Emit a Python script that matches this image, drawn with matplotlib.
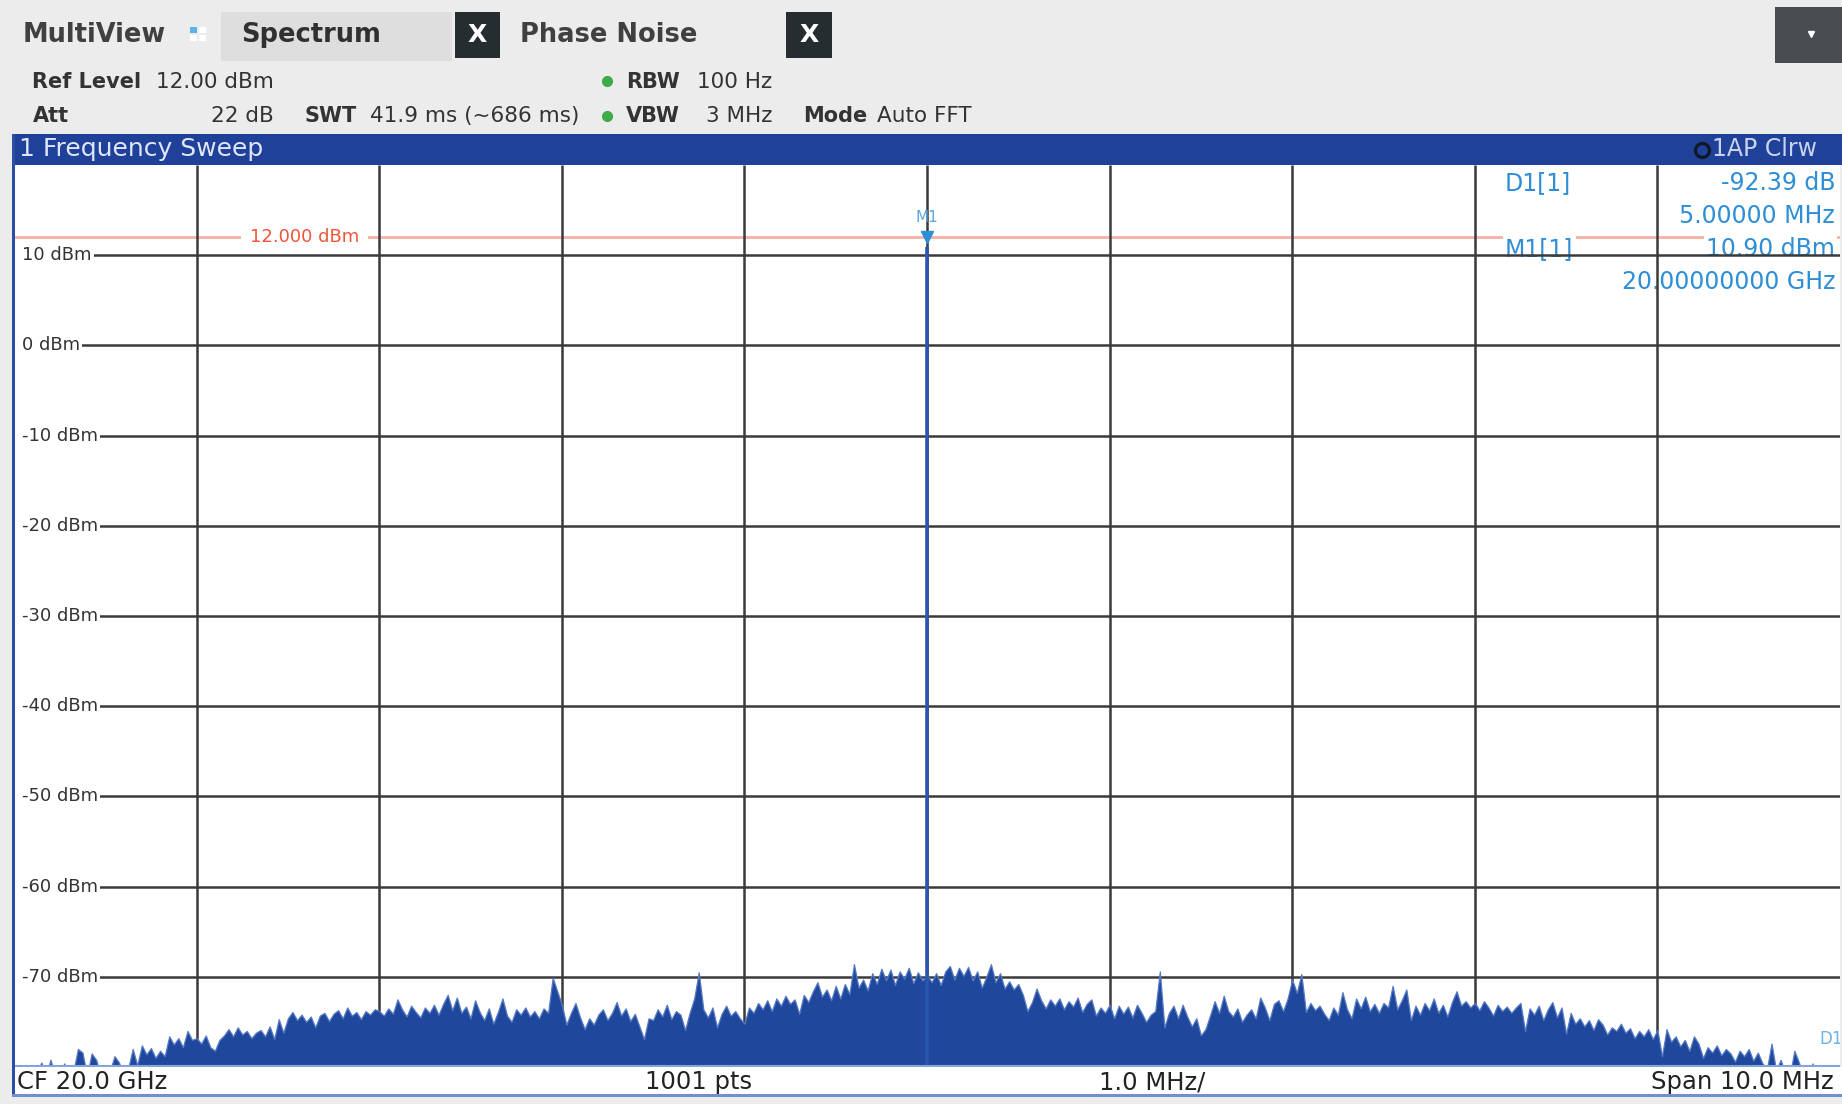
import numpy as np
import matplotlib
matplotlib.use("Agg")
import matplotlib.pyplot as plt
from matplotlib.patches import Rectangle

span_mhz = 10.0
ref_level = 12.0
y_top, y_bottom = 20, -80

# noise trace in dBm, 401 bins across the 10 MHz span (left to right)
trace_dbm = [
    # -5.0 .. -4.525 MHz
    -81.0, -81.0, -81.0, -81.0, -81.0, -80.5, -79.5, -81.0, -79.2, -81.0,
    -81.0, -79.6, -81.0, -80.5, -78.0, -78.4, -81.0, -78.5, -79.2, -81.0,
    # -4.5 .. -4.025
    -81.0, -80.5, -78.8, -79.5, -81.0, -80.2, -78.0, -79.8, -77.6, -78.6,
    -77.9, -79.0, -78.2, -78.8, -76.6, -77.5, -76.8, -77.8, -76.0, -77.0,
    # -4.0 .. -3.525
    -76.8, -77.4, -76.5, -77.8, -78.2, -77.0, -76.5, -75.8, -76.6, -75.6,
    -76.4, -76.0, -76.8, -76.2, -75.9, -76.6, -75.5, -76.9, -74.7, -76.2,
    # -3.5 .. -3.025
    -74.6, -73.9, -74.8, -74.2, -75.0, -74.4, -75.6, -74.3, -74.0, -74.9,
    -74.1, -73.7, -74.6, -73.4, -74.3, -73.9, -74.7, -73.8, -74.2, -73.6,
    # -3.0 .. -2.525
    -73.8, -74.3, -73.5, -74.1, -72.5, -73.6, -74.4, -73.2, -73.9, -74.5,
    -73.4, -74.0, -73.1, -74.2, -73.0, -72.0, -73.7, -72.3, -74.0, -73.3,
    # -2.5 .. -2.025
    -74.6, -72.6, -73.9, -74.8, -73.5, -75.2, -73.9, -72.4, -74.3, -75.0,
    -73.6, -74.2, -73.4, -74.4, -73.8, -74.6, -73.5, -74.0, -70.1, -71.6,
    # -2.0 .. -1.525
    -73.1, -75.3, -74.0, -72.9, -74.5, -75.8, -74.6, -75.3, -74.2, -73.6,
    -74.8, -74.0, -72.8, -74.3, -73.5, -74.9, -74.1, -75.5, -76.9, -74.6,
    # -1.5 .. -1.025
    -74.8, -73.6, -74.4, -73.1, -74.7, -73.8, -74.2, -75.9, -74.0, -72.4,
    -69.5, -73.6, -74.5, -73.4, -75.6, -74.1, -73.2, -74.3, -73.8, -74.6,
    # -1.0 .. -0.525
    -75.2, -73.4, -74.0, -72.9, -73.6, -72.6, -73.8, -72.4, -73.2, -72.1,
    -73.0, -72.5, -74.1, -72.0, -72.8, -71.6, -70.6, -72.2, -71.4, -72.6,
    # -0.5 .. -0.025
    -71.0, -72.4, -70.8, -71.9, -68.6, -71.2, -70.3, -71.5, -69.6, -70.8,
    -69.1, -70.4, -69.2, -70.9, -69.4, -70.2, -69.0, -70.7, -69.5, -70.4,
    # 0 MHz (under the carrier)
    -69.8,
    # 0.025 .. 0.5
    -70.6, -69.6, -70.9, -69.4, -68.8, -70.3, -69.0, -69.9, -68.9, -70.4,
    -69.4, -71.2, -70.0, -68.6, -70.6, -69.6, -71.3, -70.5, -71.4, -70.8,
    # 0.525 .. 1.0
    -72.0, -73.8, -72.8, -71.3, -72.6, -73.5, -72.5, -73.2, -72.4, -73.6,
    -72.7, -73.3, -72.3, -73.9, -73.0, -72.5, -74.3, -73.4, -74.0, -73.1,
    # 1.025 .. 1.5
    -74.6, -73.2, -74.1, -73.3, -74.5, -73.1, -74.0, -75.0, -74.2, -73.8,
    -69.4, -75.6, -74.0, -73.2, -74.6, -73.1, -74.4, -75.5, -74.6, -76.5,
    # 1.525 .. 2.0
    -75.8, -74.3, -72.7, -74.0, -72.1, -73.8, -74.4, -73.5, -75.0, -74.2,
    -73.6, -74.6, -72.3, -73.4, -74.8, -73.0, -72.6, -73.8, -72.4, -70.3,
    # 2.025 .. 2.5
    -71.8, -69.7, -73.9, -72.9, -73.7, -73.2, -74.1, -74.8, -73.4, -74.2,
    -71.7, -73.6, -74.6, -72.4, -73.5, -72.2, -73.8, -73.0, -74.0, -72.9,
    # 2.525 .. 3.0
    -73.4, -71.0, -73.6, -72.6, -71.4, -74.8, -73.2, -74.2, -72.9, -73.7,
    -72.4, -74.0, -73.1, -74.4, -72.8, -71.6, -73.2, -72.7, -73.4, -72.9,
    # 3.025 .. 3.5
    -73.7, -72.7, -73.4, -74.3, -73.1, -73.8, -73.3, -74.0, -73.4, -72.9,
    -76.0, -73.5, -74.2, -73.2, -74.8, -73.6, -72.8, -74.5, -73.4, -76.3,
    # 3.525 .. 4.0
    -74.0, -75.2, -74.6, -75.5, -74.8, -75.9, -74.7, -75.3, -76.4, -75.6,
    -76.0, -75.2, -76.2, -75.7, -76.8, -76.0, -76.6, -75.8, -76.9, -75.9,
    # 4.025 .. 4.5
    -78.8, -75.8, -77.2, -76.6, -77.7, -77.0, -78.2, -76.6, -77.4, -79.0,
    -77.8, -78.4, -77.6, -78.7, -78.0, -78.5, -79.4, -78.2, -78.8, -78.0,
    # 4.525 .. 5.0
    -79.3, -78.4, -79.6, -80.2, -77.4, -80.4, -79.2, -80.8, -81.0, -78.2,
    -79.5, -81.0, -81.0, -79.6, -81.0, -81.0, -81.0, -80.5, -81.0, -81.0,
]
freq_mhz = np.linspace(-span_mhz / 2, span_mhz / 2, len(trace_dbm))

carrier_mhz = [0.0]
carrier_dbm = [10.90]

grid_levels = [10, 0, -10, -20, -30, -40, -50, -60, -70]
grid_freqs = [-4, -3, -2, -1, 0, 1, 2, 3, 4]

marker_rows = [("D1[1]", "-92.39 dB"), ("", "5.00000 MHz"),
               ("M1[1]", "10.90 dBm"), ("", "20.00000000 GHz")]

# --- colours ---
BG = "#ececec"
RS_BLUE = "#1f419a"
TRACE = "#1f489c"
TRACE_EDGE = "#5579c4"
GRID = "#3a3a3a"
REF_LINE = "#f6b0a6"
REF_TEXT = "#f0553a"
MARK = "#2e8ed6"
TXT = "#333333"

W, H = 1842, 1104
PX_PER_MHZ = 182.6


def fx(x):
    return x / W


def fy(y):
    return 1 - y / H


fig = plt.figure(figsize=(W / 100, H / 100), dpi=100, facecolor=BG)


def box(x0, y0, x1, y1, color, z=1):
    fig.patches.append(Rectangle((fx(x0), fy(y1)), fx(x1) - fx(x0), fy(y0) - fy(y1),
                                 transform=fig.transFigure, facecolor=color,
                                 edgecolor="none", zorder=z))


def label(x, y, s, size=15.5, bold=False, color=TXT, ha="left"):
    fig.text(fx(x), fy(y), s, fontsize=size, fontweight="bold" if bold else "normal",
             color=color, ha=ha, va="center")


def dot(x, y, size, color, fill=True, mew=1.0):
    fig.lines.append(plt.Line2D([fx(x)], [fy(y)], marker="o", markersize=size,
                                markerfacecolor=color if fill else "none",
                                markeredgecolor=color, markeredgewidth=mew,
                                transform=fig.transFigure, zorder=4))


# --- tab bar ---
label(23, 35, "MultiView", 18.5, True, "#404040")
box(190, 27, 197, 33, "#5ab4e6")
box(199, 27, 206, 33, "white")
box(190, 35, 197, 41, "white")
box(199, 35, 206, 41, "white")
box(221, 12, 452, 61, "#dedede")
label(241, 35, "Spectrum", 18.5, True, "#303030")
box(455, 12, 500, 58, "#262d31")
label(477, 35, "X", 18, True, "white", "center")
label(520, 35, "Phase Noise", 18.5, True, "#404040")
box(786, 12, 832, 58, "#262d31")
label(809, 35, "X", 18, True, "white", "center")
box(1775, 7, 1842, 63, "#474c50")
fig.lines.append(plt.Line2D([fx(1811)], [fy(34)], marker="v", markersize=5, color="white",
                            transform=fig.transFigure, zorder=4))

# --- settings rows ---
label(32, 82, "Ref Level", 15, True)
label(274, 82, "12.00 dBm", ha="right")
label(33, 116, "Att", 15, True)
label(274, 116, "22 dB", ha="right")
label(305, 116, "SWT", 15, True)
label(370, 116, "41.9 ms (~686 ms)")
for yy in (81, 116):
    dot(607, yy, 7, "#3faa48")
label(626, 82, "RBW", 15, True)
label(772, 82, "100 Hz", ha="right")
label(626, 116, "VBW", 15, True)
label(772, 116, "3 MHz", ha="right")
label(803, 116, "Mode", 15, True)
label(877, 116, "Auto FFT")

# --- window title bar and frame ---
box(12, 134, 1842, 165, RS_BLUE)
label(19, 149, "1 Frequency Sweep", 18, color="#dfe6f5")
label(1817, 149, "1AP Clrw", 17, color="#c9d3ec", ha="right")
dot(1702, 150, 10, "#111827", fill=False, mew=2.4)
box(12, 1067, 1842, 1097, "white")
box(12, 134, 15, 1097, "#2a4fa3", z=3)
box(12, 1094, 1842, 1097, "#6f90d0", z=3)

# --- bottom bar ---
label(17, 1082, "CF 20.0 GHz", 17.5, color="#222222")
label(699, 1082, "1001 pts", 17.5, color="#222222", ha="center")
label(1152, 1082, "1.0 MHz/", 17.5, color="#222222", ha="center")
label(1834, 1082, "Span 10.0 MHz", 17.5, color="#222222", ha="right")

# --- trace window ---
ax = fig.add_axes([fx(14), fy(1067), fx(1840) - fx(14), fy(165) - fy(1067)])
ax.set_facecolor("white")
ax.set_xlim(-span_mhz / 2, span_mhz / 2)
ax.set_ylim(y_bottom, y_top)
ax.set_xticks([])
ax.set_yticks([])
for sp in ax.spines.values():
    sp.set_visible(False)

# level grid lines start where their labels start (8 px in from the frame)
x_lab = -span_mhz / 2 + 8 / PX_PER_MHZ
ax.hlines(grid_levels, x_lab, span_mhz / 2, color=GRID, lw=1.8, zorder=4)
for lv in grid_levels:
    ax.text(x_lab, lv, f"{lv} dBm", fontsize=13, color="#333333", ha="left",
            va="center", zorder=5,
            bbox=dict(boxstyle="square,pad=0.12", facecolor="white", edgecolor="none"))
ax.vlines(grid_freqs, y_bottom, y_top, color=GRID, lw=1.8, zorder=4)

# reference level line
ax.axhline(ref_level, color=REF_LINE, lw=2, zorder=2)
ax.text(-3.41, ref_level, f"{ref_level:.3f} dBm", fontsize=13, color=REF_TEXT,
        ha="center", va="center", zorder=3,
        bbox=dict(boxstyle="square,pad=0.5", facecolor="white", edgecolor="none"))

# trace
ax.fill_between(freq_mhz, trace_dbm, y_bottom - 10, facecolor=TRACE,
                edgecolor=TRACE_EDGE, linewidth=0.9, zorder=6)
ax.vlines(carrier_mhz, y_bottom, carrier_dbm, color="#2a56b0", lw=2.6, zorder=6)
ax.axhline(y_bottom + 0.15, color="#86a4dc", lw=1.5, zorder=7)

# marker M1
ax.plot(carrier_mhz, [ref_level], marker="v", markersize=9, color=MARK,
        linestyle="none", zorder=8)
ax.text(carrier_mhz[0], ref_level + 2.2, "M1", fontsize=11, color="#5aa6e0",
        ha="center", va="center", zorder=8)
ax.text(4.885, -76.9, "D1", fontsize=12, color="#6fb2e6", ha="left", va="center",
        zorder=8, clip_on=True)

# marker table (under the grid lines, as on the instrument)
row_y = [183, 216, 249, 282]
for (name, val), yy in zip(marker_rows, row_y):
    ylev = y_top - (yy - 165) / (1067 - 165) * (y_top - y_bottom)
    if name:
        ax.text((1505 - 14) / PX_PER_MHZ - 5, ylev, name, fontsize=17, color=MARK,
                ha="left", va="center", zorder=3,
                bbox=dict(boxstyle="square,pad=0.1", facecolor="white", edgecolor="none"))
    ax.text((1835 - 14) / PX_PER_MHZ - 5, ylev, val, fontsize=17, color=MARK,
            ha="right", va="center", zorder=3,
            bbox=dict(boxstyle="square,pad=0.1", facecolor="white", edgecolor="none"))

fig.savefig("out.png", dpi=100, facecolor=BG)
